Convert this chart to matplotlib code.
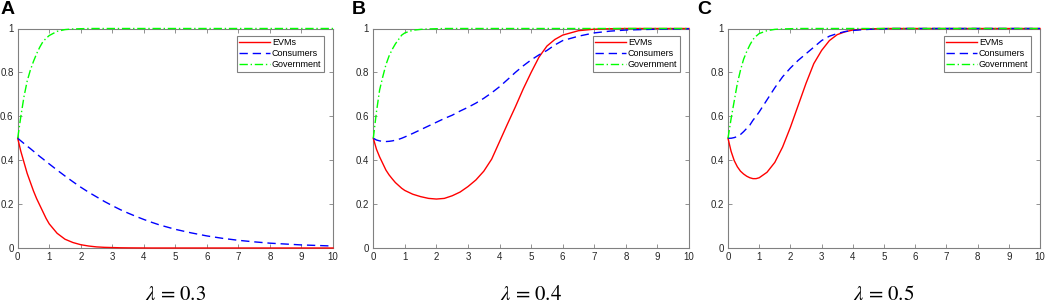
import matplotlib
matplotlib.use("Agg")
import matplotlib.pyplot as plt

# time grid shared by all panels
t = [0, 0.1, 0.2, 0.3, 0.4, 0.5, 0.6, 0.7, 0.8, 0.9, 1.0,
     1.25, 1.5, 1.75, 2.0, 2.25, 2.5, 2.75, 3.0, 3.25, 3.5, 3.75, 4.0,
     4.25, 4.5, 4.75, 5.0, 5.25, 5.5, 5.75, 6.0,
     6.5, 7.0, 7.5, 8.0, 9.0, 10.0]

# panel A, lambda = 0.3
evm_a = [0.5, 0.44, 0.39, 0.34, 0.30, 0.26, 0.225, 0.195, 0.165, 0.135, 0.11,
         0.067, 0.04, 0.025, 0.015, 0.009, 0.005, 0.003, 0.002, 0.001, 0.0006, 0.0004, 0.0002,
         0, 0, 0, 0, 0, 0, 0, 0,
         0, 0, 0, 0, 0, 0]
cons_a = [0.5, 0.488, 0.476, 0.464, 0.453, 0.441, 0.429, 0.417, 0.406, 0.394, 0.383,
          0.355, 0.328, 0.302, 0.277, 0.254, 0.233, 0.212, 0.193, 0.175, 0.159, 0.144, 0.13,
          0.117, 0.105, 0.095, 0.085, 0.077, 0.069, 0.062, 0.055,
          0.044, 0.035, 0.028, 0.022, 0.014, 0.009]
gov_a = [0.5, 0.6, 0.69, 0.76, 0.81, 0.85, 0.885, 0.915, 0.94, 0.955, 0.968,
         0.987, 0.995, 0.998, 0.999, 1, 1, 1, 1, 1, 1, 1, 1,
         1, 1, 1, 1, 1, 1, 1, 1,
         1, 1, 1, 1, 1, 1]

# panel B, lambda = 0.4
evm_b = [0.5, 0.45, 0.415, 0.385, 0.355, 0.333, 0.315, 0.298, 0.285, 0.272, 0.262,
         0.245, 0.234, 0.226, 0.223, 0.226, 0.238, 0.255, 0.28, 0.31, 0.35, 0.405, 0.485,
         0.565, 0.643, 0.725, 0.80, 0.87, 0.92, 0.95, 0.97,
         0.99, 0.997, 0.999, 1, 1, 1]
cons_b = [0.5, 0.492, 0.488, 0.486, 0.485, 0.486, 0.488, 0.491, 0.495, 0.5, 0.506,
          0.522, 0.539, 0.556, 0.573, 0.59, 0.605, 0.624, 0.641, 0.66, 0.682, 0.707, 0.735,
          0.767, 0.80, 0.83, 0.857, 0.88, 0.90, 0.925, 0.945,
          0.965, 0.98, 0.988, 0.993, 0.997, 0.999]
gov_b = [0.5, 0.62, 0.72, 0.78, 0.835, 0.875, 0.905, 0.93, 0.95, 0.97, 0.98,
         0.992, 0.996, 0.998, 0.999, 1, 1, 1, 1, 1, 1, 1, 1,
         1, 1, 1, 1, 1, 1, 1, 1,
         1, 1, 1, 1, 1, 1]

# panel C, lambda = 0.5
evm_c = [0.5, 0.44, 0.398, 0.37, 0.35, 0.337, 0.327, 0.32, 0.316, 0.316, 0.32,
         0.345, 0.39, 0.46, 0.55, 0.65, 0.75, 0.84, 0.90, 0.945, 0.972, 0.985, 0.993,
         0.996, 0.998, 0.999, 1, 1, 1, 1, 1,
         1, 1, 1, 1, 1, 1]
cons_c = [0.5, 0.5, 0.503, 0.508, 0.517, 0.53, 0.545, 0.56, 0.582, 0.6, 0.62,
          0.675, 0.73, 0.78, 0.82, 0.855, 0.885, 0.915, 0.945, 0.965, 0.977, 0.986, 0.991,
          0.994, 0.996, 0.998, 0.999, 1, 1, 1, 1,
          1, 1, 1, 1, 1, 1]
gov_c = [0.5, 0.59, 0.67, 0.75, 0.81, 0.86, 0.895, 0.925, 0.95, 0.965, 0.977,
         0.99, 0.996, 0.998, 0.999, 1, 1, 1, 1, 1, 1, 1, 1,
         1, 1, 1, 1, 1, 1, 1, 1,
         1, 1, 1, 1, 1, 1]

panel_letters = ["A", "B", "C"]
lambda_labels = [r"$\lambda$ = 0.3", r"$\lambda$ = 0.4", r"$\lambda$ = 0.5"]
series_names = ["EVMs", "Consumers", "Government"]
panels = [(evm_a, cons_a, gov_a), (evm_b, cons_b, gov_b), (evm_c, cons_c, gov_c)]

plt.rcParams['font.family'] = ['Liberation Sans', 'DejaVu Sans']
plt.rcParams['mathtext.fontset'] = 'stix'

W, H = 1045, 303
fig = plt.figure(figsize=(W / 100, H / 100), dpi=100)

# axes boxes in pixels: left, right
boxes = [(17.7, 333), (373.3, 689), (728, 1040)]
top, bottom = 28.5, 248
letter_x = [1, 352, 697]

for i, (l, r) in enumerate(boxes):
    ax = fig.add_axes([l / W, (H - bottom) / H, (r - l) / W, (bottom - top) / H])
    evm, cons, gov = panels[i]
    ax.plot(t, evm, color='#ff0000', lw=1.0, ls='-', label=series_names[0],
            zorder=3, clip_on=False)
    ax.plot(t, cons, color='#0000ff', lw=1.0, ls=(0, (6, 3.5)), label=series_names[1],
            zorder=3, clip_on=False)
    ax.plot(t, gov, color='#00ff00', lw=1.0, ls=(0, (6, 2, 1, 2)), label=series_names[2],
            zorder=3, clip_on=False)
    ax.set_xlim(0, 10)
    ax.set_ylim(0, 1)
    ax.set_xticks(range(0, 11))
    ax.set_yticks([0, 0.2, 0.4, 0.6, 0.8, 1])
    ax.set_yticklabels(["0", "0.2", "0.4", "0.6", "0.8", "1"])
    ax.tick_params(direction='in', top=True, right=True, length=3, width=0.6,
                   labelsize=7, colors='#262626', pad=3)
    ax.tick_params(color='#808080')
    for s in ax.spines.values():
        s.set_color('#808080')
        s.set_linewidth(0.8)
    w_px = r - l
    leg = ax.legend(loc='upper right', bbox_to_anchor=(1 - 9 / w_px, 1 - 7 / (bottom - top)),
                    borderaxespad=0, fontsize=6.5, handlelength=3.4, handletextpad=0.2,
                    borderpad=0.3, labelspacing=0.2, fancybox=False, framealpha=1)
    leg.get_frame().set_edgecolor('#808080')
    leg.get_frame().set_linewidth(0.8)
    leg.set_zorder(5)
    fig.text(letter_x[i] / W, 1 - 1 / H, panel_letters[i], fontsize=14, fontweight='bold',
             ha='left', va='top')
    fig.text((l + r) / 2 / W, (H - 295) / H, lambda_labels[i], fontsize=15,
             family='STIXGeneral', ha='center', va='center')

fig.savefig("out.png", dpi=100)
